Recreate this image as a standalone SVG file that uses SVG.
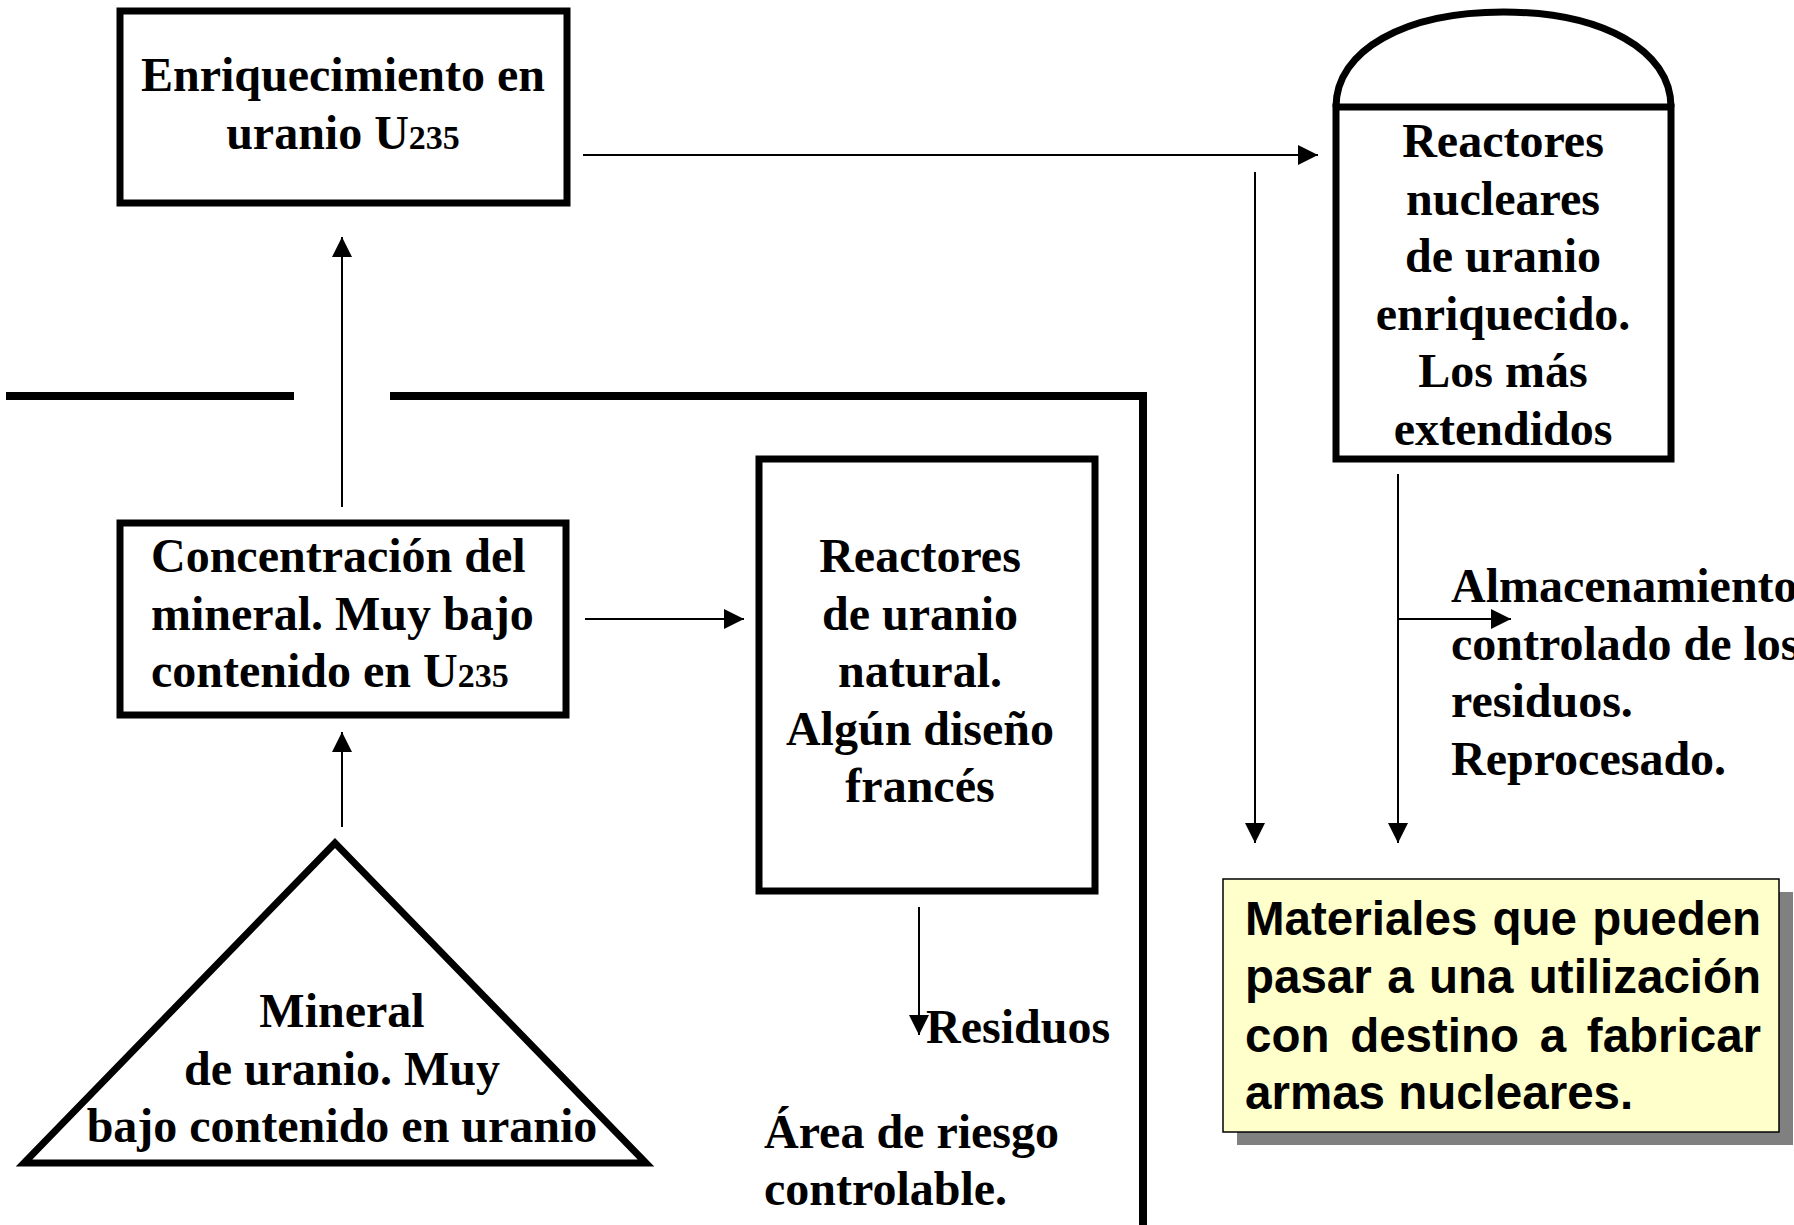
<svg xmlns="http://www.w3.org/2000/svg" width="1794" height="1225" viewBox="0 0 1794 1225">
<style>
.box{fill:#fff;stroke:#000;stroke-width:7;stroke-linejoin:miter}
.t{font-family:"Liberation Serif","Times New Roman",serif;font-weight:bold;font-size:48px;fill:#000}
.c{text-anchor:middle}
.sub{font-size:34px}
.conn{stroke:#000;stroke-width:2;fill:none}
.wall{stroke:#000;stroke-width:8;fill:none;stroke-linejoin:miter}
.a{font-family:"Liberation Sans",Arial,sans-serif;font-weight:bold;font-size:47.5px;fill:#000}
</style>
<defs>
<marker id="ah" markerWidth="20" markerHeight="20" refX="20" refY="10" orient="auto" markerUnits="userSpaceOnUse">
<path d="M0,0 L20,10 L0,20 z" fill="#000"/>
</marker>
</defs>
<rect width="1794" height="1225" fill="#fff"/>

<g id="walls">
<path class="wall" d="M6,396 H294"/>
<path class="wall" d="M390,396 H1143 V1225"/>
</g>

<g id="connectors">
<path class="conn" d="M583,155 H1318" marker-end="url(#ah)"/>
<path class="conn" d="M342,507 V237" marker-end="url(#ah)"/>
<path class="conn" d="M342,827 V732" marker-end="url(#ah)"/>
<path class="conn" d="M585,619 H744" marker-end="url(#ah)"/>
<path class="conn" d="M919,907 V1035" marker-end="url(#ah)"/>
<path class="conn" d="M1255,172 V843" marker-end="url(#ah)"/>
<path class="conn" d="M1398,474 V843" marker-end="url(#ah)"/>
<path class="conn" d="M1399,619 H1511" marker-end="url(#ah)"/>
</g>

<g id="n-enriquecimiento">
<rect class="box" x="120" y="11" width="447" height="192"/>
<text class="t c" x="343" y="91">Enriquecimiento en</text>
<text class="t c" x="343" y="148.5">uranio U<tspan class="sub">235</tspan></text>
</g>

<g id="n-concentracion">
<rect class="box" x="120" y="523" width="446" height="192"/>
<text class="t" x="151" y="572">Concentración del</text>
<text class="t" x="151" y="629.5">mineral. Muy bajo</text>
<text class="t" x="151" y="687">contenido en U<tspan class="sub">235</tspan></text>
</g>

<g id="n-mineral">
<polygon class="box" points="335,843 24,1163 646,1163"/>
<text class="t c" x="342" y="1027">Mineral</text>
<text class="t c" x="342" y="1084.5">de uranio. Muy</text>
<text class="t c" x="342" y="1142">bajo contenido en uranio</text>
</g>

<g id="n-reactores-natural">
<rect class="box" x="759" y="459" width="336" height="432"/>
<text class="t c" x="920" y="572">Reactores</text>
<text class="t c" x="920" y="629.5">de uranio</text>
<text class="t c" x="920" y="687">natural.</text>
<text class="t c" x="920" y="744.5">Algún diseño</text>
<text class="t c" x="920" y="802">francés</text>
</g>

<g id="n-reactores-enriquecido">
<path class="box" d="M1336,107 C1336,50 1405,12 1503.5,12 C1602,12 1671,50 1671,107"/>
<rect class="box" x="1336" y="107" width="335" height="352"/>
<text class="t c" x="1503" y="157">Reactores</text>
<text class="t c" x="1503" y="214.5">nucleares</text>
<text class="t c" x="1503" y="272">de uranio</text>
<text class="t c" x="1503" y="329.5">enriquecido.</text>
<text class="t c" x="1503" y="387">Los más</text>
<text class="t c" x="1503" y="444.5">extendidos</text>
</g>

<g id="l-residuos">
<text class="t" x="926" y="1043">Residuos</text>
</g>

<g id="l-area">
<text class="t" x="764" y="1148">Área de riesgo</text>
<text class="t" x="764" y="1205">controlable.</text>
</g>

<g id="l-almacenamiento">
<text class="t" x="1451" y="602">Almacenamiento</text>
<text class="t" x="1451" y="659.5">controlado de los</text>
<text class="t" x="1451" y="717">residuos.</text>
<text class="t" x="1451" y="774.5">Reprocesado.</text>
</g>

<g id="n-materiales">
<rect x="1237" y="892" width="556" height="253" fill="#808080"/>
<rect x="1223" y="879" width="556" height="253" fill="#FFFFCC" stroke="#000" stroke-width="1.5"/>
<text class="a" x="1245" y="935" word-spacing="2">Materiales que pueden</text>
<text class="a" x="1245" y="993" word-spacing="2.2">pasar a una utilización</text>
<text class="a" x="1245" y="1052" word-spacing="7.5">con destino a fabricar</text>
<text class="a" x="1245" y="1109">armas nucleares.</text>
</g>
</svg>
